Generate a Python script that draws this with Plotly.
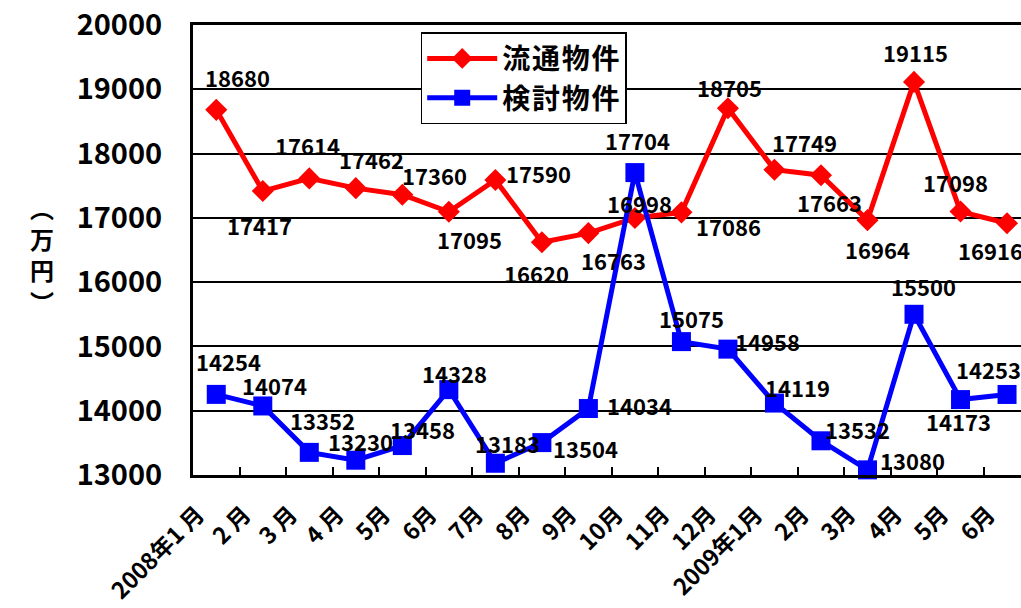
import plotly.graph_objects as go

# Monthly average prices (万円), Jan 2008 – Jun 2009
months = ["2008年1 月", "2 月", "3 月", "4 月", "5月", "6月", "7月", "8月", "9月",
          "10月", "11月", "12月", "2009年1月", "2月", "3月", "4月", "5月", "6月"]
ryutsu = [18680, 17417, 17614, 17462, 17360, 17095, 17590, 16620, 16763,
          16998, 17086, 18705, 17749, 17663, 16964, 19115, 17098, 16916]
kento = [14254, 14074, 13352, 13230, 13458, 14328, 13183, 13504, 14034,
         17704, 15075, 14958, 14119, 13532, 13080, 15500, 14173, 14253]
y_ticks = [13000, 14000, 15000, 16000, 17000, 18000, 19000, 20000]

# Pixel offsets (dx, dy) of each value label from its marker
ryutsu_label_offsets = [(21, 33), (-3, -34), (-2, 33), (16, 29), (32, 20), (21, -27),
                        (43, 7), (-5, -31), (25, -27), (5, 15), (47, -14), (2, 21),
                        (30, 28), (9, -27), (10, -29), (1, 30), (-5, 30), (-17, -27)]
kento_label_offsets = [(12, 33), (12, 21), (13, 32), (5, 19), (20, 17), (6, 17),
                       (12, 20), (44, -5), (51, 4), (3, 33), (10, 24), (40, 8),
                       (23, 16), (37, 12), (45, 10), (9, 28), (-2, -21), (-19, 25)]

JP_FONT = "Noto Sans CJK JP"
HAIR = "\u200a"
x = list(range(len(months)))
# slanted month labels sit slightly left of each month's centre
label_pos = [i - 0.4 for i in x]


def spaced(s):
    return HAIR.join(s)


fig = go.Figure()
fig.add_trace(go.Scatter(
    x=x, y=ryutsu, name=spaced("流通物件"), mode="lines+markers",
    line=dict(color="#ff0000", width=5),
    marker=dict(symbol="diamond", size=17, color="#ff0000"),
    cliponaxis=False,
))
fig.add_trace(go.Scatter(
    x=x, y=kento, name=spaced("検討物件"), mode="lines+markers",
    line=dict(color="#0000ff", width=5),
    marker=dict(symbol="square", size=19, color="#0000ff"),
    cliponaxis=False,
))

annotations = []
for series, offsets in ((ryutsu, ryutsu_label_offsets), (kento, kento_label_offsets)):
    for i, (v, (dx, dy)) in enumerate(zip(series, offsets)):
        annotations.append(dict(
            x=i, y=v, xref="x", yref="y", text=str(v), showarrow=False,
            xshift=dx, yshift=dy,
            font=dict(family=JP_FONT, size=22, color="black", weight="bold"),
        ))

# Vertical unit label
annotations.append(dict(
    x=(28 - 193) / 828, y=1 - (255 - 25) / 450, xref="paper", yref="paper",
    text="︵<br>万<br>円<br>︶", showarrow=False,
    font=dict(family=JP_FONT, size=24, color="black", weight="bold"),
))

fig.update_layout(
    width=1021, height=608,
    margin=dict(l=193, r=0, t=25, b=133, autoexpand=False),
    paper_bgcolor="white", plot_bgcolor="white",
    showlegend=True,
    legend=dict(
        x=0.275, y=0.984, xanchor="left", yanchor="top",
        bgcolor="white", bordercolor="black", borderwidth=1.5,
        font=dict(family=JP_FONT, size=28, color="black", weight="bold"),
        tracegroupgap=2, itemwidth=70,
    ),
    xaxis=dict(
        range=[-0.5, 17.30], tickmode="array", tickvals=label_pos, ticktext=months,
        tickangle=-45, ticks="", showgrid=False, zeroline=False,
        showline=True, linecolor="black", linewidth=3, mirror=True,
        automargin=False, ticklabelstandoff=14,
        tickfont=dict(family=JP_FONT, size=23, color="black", weight="bold"),
        minor=dict(tickmode="array", tickvals=[i + 0.5 for i in x[:-1]],
                   ticks="inside", ticklen=8, tickwidth=1.5, tickcolor="black",
                   showgrid=False),
    ),
    yaxis=dict(
        range=[13000, 20000], tickmode="array", tickvals=y_ticks,
        ticktext=[str(v) for v in y_ticks],
        showgrid=True, gridcolor="black", gridwidth=1.5, zeroline=False,
        showline=True, linecolor="black", linewidth=3, ticks="",
        automargin=False, ticklabelstandoff=22,
        tickfont=dict(family=JP_FONT, size=29, color="black", weight="bold"),
    ),
    annotations=annotations,
)

fig.write_html("out.html")
